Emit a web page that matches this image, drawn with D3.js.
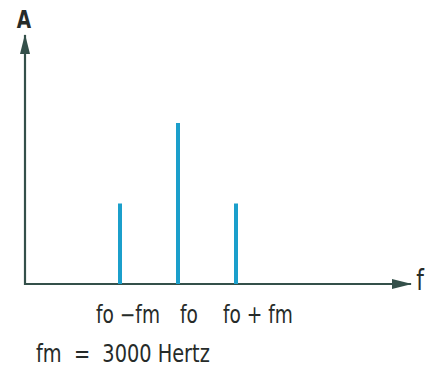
<!DOCTYPE html>
<html>
<head>
<meta charset="utf-8">
<script src="https://cdn.jsdelivr.net/npm/d3@7"></script>
<style>
  body { margin: 0; background: #fff; }
  text { font-family: "DejaVu Sans Condensed", "DejaVu Sans", sans-serif; fill: #262b29; }
</style>
</head>
<body>
<div id="container"></div>
<script>
/* DATA */
const offsets = [-1, 0, 1];              // frequency in units of fm, relative to fo
const amplitudes = [0.5, 1, 0.5];
const tickLabels = ["fo −fm", "fo", "fo + fm"];
const note = "fm  =  3000 Hertz";

/* CONSTANTS */
const width = 432, height = 374;
const axisColor = "#34504a";
const barColor = "#1b9fcb";
const squeeze = 0.86;   // narrow lettering like the stencil font

/* SCALES */
const xScale = d3.scaleLinear().domain([-1, 1]).range([120, 236]);
const yScale = d3.scaleLinear().domain([0, 1]).range([284, 123]);

const svg = d3.select("#container").append("svg")
  .attr("width", width)
  .attr("height", height);

svg.append("defs").append("marker")
  .attr("id", "arrow")
  .attr("viewBox", "0 0 20 10")
  .attr("refX", 19).attr("refY", 5)
  .attr("markerWidth", 20).attr("markerHeight", 10)
  .attr("markerUnits", "userSpaceOnUse")
  .attr("orient", "auto")
  .append("path")
    .attr("d", "M0,0 L20,5 L0,10 Z")
    .attr("fill", axisColor);

// axes
svg.append("line")
  .attr("x1", 25).attr("y1", yScale(0) + 1)
  .attr("x2", 25).attr("y2", 35)
  .attr("stroke", axisColor).attr("stroke-width", 2.2)
  .attr("marker-end", "url(#arrow)");

svg.append("line")
  .attr("x1", 24).attr("y1", yScale(0))
  .attr("x2", 411).attr("y2", yScale(0))
  .attr("stroke", axisColor).attr("stroke-width", 2.2)
  .attr("marker-end", "url(#arrow)");

function label(x, y, size, str, anchor) {
  return svg.append("text")
    .attr("transform", `translate(${x},${y}) scale(${squeeze},1)`)
    .attr("text-anchor", anchor || "start")
    .attr("font-size", size)
    .attr("xml:space", "preserve")
    .style("white-space", "pre")
    .text(str);
}

label(24, 28, 24, "A", "middle").attr("font-weight", "bold");
label(420, 290, 28, "f", "middle");

// spectral lines
svg.selectAll("rect.bar")
  .data(offsets)
  .join("rect")
    .attr("class", "bar")
    .attr("x", d => xScale(d) - 2)
    .attr("width", 4)
    .attr("y", (d, i) => yScale(amplitudes[i]))
    .attr("height", (d, i) => yScale(0) - yScale(amplitudes[i]))
    .attr("fill", barColor);

// tick labels
const labelDx = [8, 11, 22];
offsets.forEach((d, i) => label(xScale(d) + labelDx[i], 323, 24, tickLabels[i], "middle"));

label(36, 362, 25, note);
</script>
</body>
</html>
